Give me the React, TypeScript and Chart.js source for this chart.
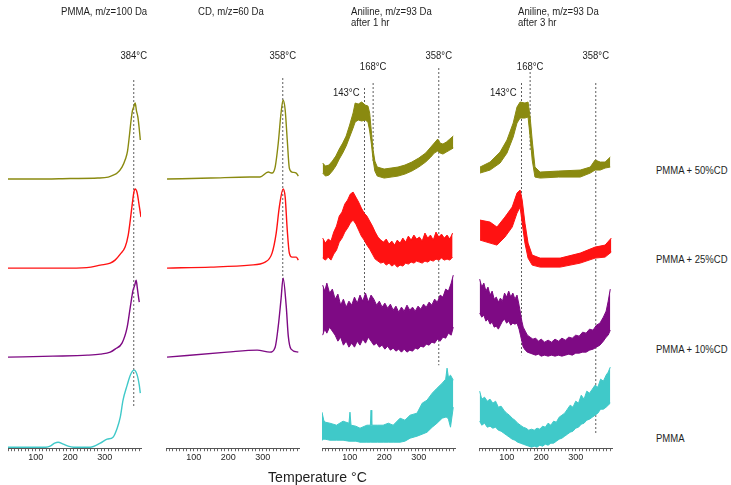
import React, { useEffect, useRef } from 'react';
import { Chart, registerables } from 'chart.js';

Chart.register(...registerables);

// ---------- colours ----------
const OLIVE = '#8a8a10';
const RED = '#ff1212';
const PURPLE = '#7e0a84';
const CYAN = '#40c9c9';
const MARKER = '#5c5c5c';
const TEXT = '#1e1e1e';
const FONT = '"Liberation Sans", Arial, Helvetica, sans-serif';

// ---------- temperature axis ----------
const T_MIN = 20;
const T_MAX = 405;
const TICK_STEP = 10;
const TICK_LABELS = [100, 200, 300];

// ---------- panel 1: PMMA, m/z=100 Da (smooth traces) ----------
const pmmaOliveT = [20, 100, 200, 280, 310, 325, 336, 350, 360, 366, 371, 376, 380, 384, 388, 392, 396, 400, 403];
const pmmaOliveV = [0, 0, 0.5, 1, 2, 4, 6, 12, 20, 28, 42, 58, 68, 72, 76, 68, 62, 50, 39];
const pmmaRedT = [20, 200, 260, 287, 316, 330, 345, 359, 368, 374, 380, 385, 388, 394, 400, 405];
const pmmaRedV = [0, 0, 1, 3, 5, 8, 14, 21, 33, 48, 65, 77, 79, 75, 62, 51];
const pmmaPurpleT = [20, 150, 250, 287, 316, 330, 350, 365, 374, 382, 387, 391, 394, 397, 400];
const pmmaPurpleV = [0, 1, 2, 3, 5, 8, 14, 30, 50, 67, 72, 77, 70, 62, 55];
const pmmaCyanT = [20, 130, 142, 155, 165, 180, 194, 210, 258, 287, 307, 324, 336, 345, 353, 365, 374, 385, 394, 400, 403];
const pmmaCyanV = [0, 0, 1, 4, 5, 3, 1, 0, 0, 4, 8, 10, 19, 30, 47, 62, 72, 77, 72, 62, 54];

// ---------- panel 2: CD, m/z=60 Da (smooth traces) ----------
const cdOliveT = [23, 150, 263, 292, 316, 327, 336, 345, 353, 359, 365, 371, 377, 385, 397, 403];
const cdOliveV = [0, 1, 2, 2, 7, 6, 12, 36, 66, 79, 69, 39, 11, 7, 6, 3];
const cdRedT = [23, 150, 263, 307, 327, 339, 348, 359, 365, 371, 377, 385, 397, 403];
const cdRedV = [0, 1, 3, 6, 15, 35, 61, 79, 71, 38, 15, 11, 11, 8];
const cdPurpleT = [23, 197, 284, 321, 336, 345, 353, 359, 368, 374, 382, 403];
const cdPurpleV = [0, 5, 7, 5, 10, 31, 58, 79, 51, 21, 8, 5];

// ---------- panel 3: Aniline, m/z=93 Da, after 1 hr (noisy: upper / lower envelope) ----------
const an1OliveT = [22, 30, 40, 50, 60, 70, 80, 90, 100, 110, 116, 125, 135, 145, 153, 158, 163, 168, 173, 180, 200, 220, 240, 260, 280, 300, 320, 335, 345, 355, 362, 370, 380, 390, 400];
const an1OliveHi = [16, 13, 14, 18, 23, 30, 36, 43, 54, 66, 76, 75, 77, 74, 73, 66, 47, 29, 18, 12, 10, 11, 12, 14, 17, 21, 26, 32, 36, 40, 36, 35, 37, 40, 43];
const an1OliveLo = [6, 3, 4, 8, 13, 20, 26, 33, 42, 51, 57, 59, 58, 59, 57, 48, 35, 19, 8, 3, 1, 2, 3, 5, 8, 12, 17, 22, 26, 28, 26, 25, 27, 29, 31];
const an1RedT = [22, 30, 38, 46, 54, 62, 70, 78, 86, 94, 102, 110, 118, 126, 134, 142, 150, 158, 166, 174, 182, 190, 198, 206, 214, 222, 230, 238, 246, 254, 262, 270, 278, 286, 294, 302, 310, 318, 326, 334, 342, 350, 358, 366, 374, 382, 390, 398];
const an1RedHi = [30, 25, 29, 27, 36, 42, 52, 56, 64, 68, 74, 76, 71, 66, 60, 55, 52, 47, 42, 36, 31, 28, 26, 29, 24, 27, 23, 28, 25, 30, 26, 32, 28, 33, 29, 31, 27, 35, 30, 33, 28, 36, 31, 34, 30, 33, 29, 35];
const an1RedLo = [10, 8, 11, 8, 14, 18, 26, 30, 36, 40, 45, 48, 44, 38, 32, 28, 23, 19, 14, 9, 7, 5, 6, 3, 5, 2, 4, 1, 3, 2, 5, 4, 6, 5, 7, 6, 5, 7, 6, 8, 7, 9, 8, 10, 8, 9, 8, 11];
const an1PurpleT = [22, 28, 34, 42, 50, 58, 66, 74, 82, 90, 98, 106, 114, 122, 130, 138, 146, 154, 162, 170, 178, 186, 194, 202, 210, 218, 226, 234, 242, 250, 258, 266, 274, 282, 290, 298, 306, 314, 322, 330, 338, 346, 354, 362, 370, 378, 386, 394, 400];
const an1PurpleHi = [72, 66, 74, 64, 68, 58, 63, 52, 58, 50, 56, 52, 60, 54, 62, 56, 64, 55, 62, 58, 52, 56, 50, 54, 49, 53, 47, 51, 45, 50, 46, 52, 47, 50, 46, 51, 48, 53, 50, 55, 52, 58, 55, 62, 60, 68, 66, 74, 82];
const an1PurpleLo = [22, 28, 24, 30, 26, 22, 16, 20, 12, 16, 10, 14, 10, 16, 12, 18, 14, 20, 16, 12, 14, 10, 12, 8, 11, 7, 9, 6, 8, 5, 8, 5, 7, 6, 9, 8, 11, 10, 13, 12, 15, 14, 18, 16, 20, 19, 24, 22, 30];
const an1CyanT = [20, 25, 29, 43, 62, 81, 98, 101, 104, 118, 130, 150, 160, 162, 164, 180, 197, 212, 226, 246, 260, 275, 295, 310, 324, 339, 353, 368, 378, 382, 386, 392, 400];
const an1CyanHi = [35, 27, 25, 24, 22, 26, 24, 35, 22, 21, 19, 22, 22, 37, 22, 22, 22, 24, 22, 29, 27, 32, 34, 44, 47, 54, 59, 64, 68, 79, 70, 72, 67];
const an1CyanLo = [7, 8, 8, 7, 7, 7, 6, 6, 6, 6, 5, 5, 5, 5, 5, 5, 5, 5, 5, 5, 6, 9, 11, 13, 15, 20, 24, 29, 30, 30, 28, 20, 40];

// ---------- panel 4: Aniline, m/z=93 Da, after 3 hr ----------
const an3OliveT = [23, 52, 81, 101, 119, 130, 139, 153, 162, 168, 174, 182, 197, 250, 313, 342, 356, 371, 385, 400];
const an3OliveHi = [12, 17, 27, 39, 56, 72, 77, 76, 77, 62, 39, 12, 7, 8, 9, 12, 19, 17, 17, 22];
const an3OliveLo = [6, 9, 16, 26, 42, 56, 61, 61, 62, 42, 19, 2, 1, 2, 2, 6, 9, 9, 11, 12];
const an3RedT = [23, 52, 72, 95, 116, 130, 139, 145, 153, 162, 174, 197, 255, 313, 356, 385, 403];
const an3RedHi = [48, 46, 41, 51, 61, 75, 78, 68, 45, 25, 13, 10, 10, 15, 21, 23, 30];
const an3RedLo = [28, 25, 23, 31, 41, 55, 61, 45, 25, 10, 3, 1, 1, 5, 10, 11, 16];
const an3PurpleT = [22, 28, 34, 40, 46, 52, 58, 64, 70, 76, 82, 88, 94, 100, 106, 112, 118, 124, 130, 136, 140, 144, 148, 154, 160, 168, 176, 184, 192, 200, 210, 220, 230, 240, 250, 260, 270, 280, 290, 300, 310, 320, 330, 340, 350, 360, 370, 380, 388, 394, 400];
const an3PurpleHi = [78, 70, 74, 66, 70, 62, 66, 58, 60, 55, 59, 56, 64, 60, 66, 60, 64, 58, 62, 52, 44, 36, 30, 26, 22, 20, 18, 19, 16, 18, 15, 17, 15, 18, 16, 19, 17, 20, 19, 22, 21, 25, 24, 28, 27, 32, 34, 40, 46, 56, 68];
const an3PurpleLo = [44, 40, 42, 36, 38, 33, 35, 30, 31, 28, 32, 36, 38, 34, 36, 32, 34, 33, 34, 28, 22, 16, 10, 7, 5, 4, 3, 2, 3, 1, 2, 1, 2, 1, 2, 1, 2, 3, 2, 4, 4, 5, 5, 7, 8, 10, 12, 16, 20, 22, 27];
const an3CyanT = [22, 28, 36, 44, 52, 60, 68, 76, 84, 92, 100, 108, 116, 124, 132, 140, 148, 156, 164, 172, 180, 188, 196, 204, 212, 220, 228, 236, 244, 252, 260, 268, 276, 284, 292, 300, 308, 316, 324, 332, 340, 348, 356, 364, 372, 380, 388, 394, 400];
const an3CyanHi = [56, 48, 50, 46, 48, 44, 46, 40, 41, 37, 34, 32, 29, 27, 24, 22, 20, 19, 17, 18, 17, 19, 18, 21, 20, 24, 22, 26, 25, 30, 32, 34, 38, 42, 40, 46, 44, 52, 48, 56, 54, 58, 62, 60, 68, 66, 72, 75, 80];
const an3CyanLo = [26, 22, 24, 20, 21, 19, 20, 17, 16, 14, 12, 10, 8, 7, 5, 4, 3, 2, 1, 0, 1, 0, 2, 1, 3, 2, 4, 4, 6, 8, 9, 11, 13, 15, 16, 19, 20, 23, 24, 27, 28, 30, 32, 34, 38, 38, 40, 42, 44];

// ---------- reference temperatures (dashed markers) ----------
const pmmaMarkT = [384];
const pmmaMarkTop = [368];
const pmmaMarkBottom = [41];
const cdMarkT = [358];
const cdMarkTop = [370];
const cdMarkBottom = [168];
const an1MarkT = [143, 168, 358];
const an1MarkTop = [360, 365, 380];
const an1MarkBottom = [138, 285, 83];
const an3MarkT = [143, 168, 358];
const an3MarkTop = [365, 376, 365];
const an3MarkBottom = [93, 298, 15];

// ---------- text ----------
const rowLabels = ['PMMA + 50%CD', 'PMMA + 25%CD', 'PMMA + 10%CD', 'PMMA'];
const axisTitle = 'Temperature °C';

// vertical stacking of the four samples (baseline height in the plot's y units)
const ROW_BASE = { olive: 269, red: 180, purple: 91, cyan: 1 };

type Smooth = { kind: 'line'; color: string; base: number; t: number[]; v: number[] };
type Band = { kind: 'band'; color: string; base: number; t: number[]; hi: number[]; lo: number[] };
type Marker = { t: number; top: number; bottom: number; labelY: number; align: 'center' | 'left' };

const markerList = (t: number[], top: number[], bottom: number[], labelY: number[], align: ('center' | 'left')[]): Marker[] =>
  t.map((v, i) => ({ t: v, top: top[i], bottom: bottom[i], labelY: labelY[i], align: align[i] }));

const PLOT_W = 133;
const PAD_L = 34;
const PAD_R = 24;
const CANVAS_H = 485;

const markerLabelPlugin = {
  id: 'markerLabels',
  afterDatasetsDraw(chart: any) {
    const markers: Marker[] = chart.options.plugins.markerLabels.items;
    const { ctx } = chart;
    const xs = chart.scales.x;
    const ys = chart.scales.y;
    ctx.save();
    ctx.fillStyle = TEXT;
    ctx.font = `10px ${FONT}`;
    ctx.textBaseline = 'middle';
    markers.forEach((m) => {
      const x = xs.getPixelForValue(m.t);
      const y = ys.getPixelForValue(m.labelY);
      const label = `${m.t}°C`;
      ctx.save();
      if (m.align === 'center') {
        ctx.translate(x, y);
        ctx.scale(0.95, 1);
        ctx.textAlign = 'center';
      } else {
        ctx.translate(x - 5, y);
        ctx.scale(0.95, 1);
        ctx.textAlign = 'right';
      }
      ctx.fillText(label, 0, 0);
      ctx.restore();
    });
    ctx.restore();
  },
};

function Panel({ left, series, markers }: { left: number; series: (Smooth | Band)[]; markers: Marker[] }) {
  const ref = useRef<HTMLCanvasElement>(null);

  useEffect(() => {
    if (!ref.current) return;
    const datasets: any[] = [];
    series.forEach((s) => {
      if (s.kind === 'line') {
        datasets.push({
          data: s.t.map((t, i) => ({ x: t, y: s.base + s.v[i] })),
          borderColor: s.color,
          borderWidth: 1.4,
          pointRadius: 0,
          cubicInterpolationMode: 'monotone',
          fill: false,
        });
      } else {
        datasets.push({
          data: s.t.map((t, i) => ({ x: t, y: s.base + s.hi[i] })),
          borderColor: s.color,
          borderWidth: 1,
          pointRadius: 0,
          tension: 0,
          fill: false,
        });
        datasets.push({
          data: s.t.map((t, i) => ({ x: t, y: s.base + s.lo[i] })),
          borderColor: s.color,
          backgroundColor: s.color,
          borderWidth: 1,
          pointRadius: 0,
          tension: 0,
          fill: '-1',
        });
      }
    });
    markers.forEach((m) => {
      datasets.push({
        data: [
          { x: m.t, y: m.top },
          { x: m.t, y: m.bottom },
        ],
        borderColor: MARKER,
        borderWidth: 1,
        borderDash: [2, 2],
        pointRadius: 0,
        fill: false,
      });
    });

    const chart = new Chart(ref.current, {
      type: 'line',
      data: { datasets },
      plugins: [markerLabelPlugin],
      options: {
        responsive: false,
        animation: false,
        events: [],
        layout: { padding: { left: PAD_L, right: PAD_R, top: 48, bottom: 21 } },
        plugins: {
          legend: { display: false },
          tooltip: { enabled: false },
          // @ts-ignore
          markerLabels: { items: markers },
        },
        scales: {
          x: {
            type: 'linear',
            min: T_MIN,
            max: T_MAX,
            afterBuildTicks: (scale: any) => {
              const ticks = [];
              for (let v = T_MIN; v <= T_MAX; v += TICK_STEP) ticks.push({ value: v });
              scale.ticks = ticks;
            },
            ticks: {
              autoSkip: false,
              maxRotation: 0,
              padding: 1,
              color: TEXT,
              font: { size: 9, family: FONT },
              callback: (v: any) => (TICK_LABELS.includes(Number(v)) ? String(v) : ''),
            },
            grid: { drawOnChartArea: false, drawTicks: true, tickLength: 3, color: '#666' },
            border: { display: true, color: '#555', width: 1 },
          },
          y: { display: false, min: 0, max: 400 },
        },
      },
    } as any);
    return () => chart.destroy();
  }, []);

  return (
    <canvas
      ref={ref}
      width={PAD_L + PLOT_W + PAD_R}
      height={CANVAS_H}
      style={{ position: 'absolute', left: left - PAD_L, top: 0, width: PAD_L + PLOT_W + PAD_R, height: CANVAS_H }}
    />
  );
}

function Label({ x, y, text, size = 10, sx = 0.96 }: { x: number; y: number; text: string; size?: number; sx?: number }) {
  return (
    <div
      style={{
        position: 'absolute',
        left: x,
        top: y - 7,
        height: 14,
        lineHeight: '14px',
        fontSize: size,
        fontFamily: FONT,
        color: TEXT,
        whiteSpace: 'nowrap',
        transform: `scaleX(${sx})`,
        transformOrigin: 'left center',
      }}
    >
      {text}
    </div>
  );
}

export default function App() {
  const panel1: (Smooth | Band)[] = [
    { kind: 'line', color: OLIVE, base: ROW_BASE.olive, t: pmmaOliveT, v: pmmaOliveV },
    { kind: 'line', color: RED, base: ROW_BASE.red, t: pmmaRedT, v: pmmaRedV },
    { kind: 'line', color: PURPLE, base: ROW_BASE.purple, t: pmmaPurpleT, v: pmmaPurpleV },
    { kind: 'line', color: CYAN, base: ROW_BASE.cyan, t: pmmaCyanT, v: pmmaCyanV },
  ];
  const panel2: (Smooth | Band)[] = [
    { kind: 'line', color: OLIVE, base: ROW_BASE.olive, t: cdOliveT, v: cdOliveV },
    { kind: 'line', color: RED, base: ROW_BASE.red, t: cdRedT, v: cdRedV },
    { kind: 'line', color: PURPLE, base: ROW_BASE.purple, t: cdPurpleT, v: cdPurpleV },
  ];
  const panel3: (Smooth | Band)[] = [
    { kind: 'band', color: OLIVE, base: ROW_BASE.olive, t: an1OliveT, hi: an1OliveHi, lo: an1OliveLo },
    { kind: 'band', color: RED, base: ROW_BASE.red, t: an1RedT, hi: an1RedHi, lo: an1RedLo },
    { kind: 'band', color: PURPLE, base: ROW_BASE.purple, t: an1PurpleT, hi: an1PurpleHi, lo: an1PurpleLo },
    { kind: 'band', color: CYAN, base: ROW_BASE.cyan, t: an1CyanT, hi: an1CyanHi, lo: an1CyanLo },
  ];
  const panel4: (Smooth | Band)[] = [
    { kind: 'band', color: OLIVE, base: ROW_BASE.olive, t: an3OliveT, hi: an3OliveHi, lo: an3OliveLo },
    { kind: 'band', color: RED, base: ROW_BASE.red, t: an3RedT, hi: an3RedHi, lo: an3RedLo },
    { kind: 'band', color: PURPLE, base: ROW_BASE.purple, t: an3PurpleT, hi: an3PurpleHi, lo: an3PurpleLo },
    { kind: 'band', color: CYAN, base: ROW_BASE.cyan, t: an3CyanT, hi: an3CyanHi, lo: an3CyanLo },
  ];

  return (
    <div style={{ position: 'absolute', left: 0, top: 0, width: 731, height: 485, background: '#fff', overflow: 'hidden' }}>
      <Panel left={8} series={panel1} markers={markerList(pmmaMarkT, pmmaMarkTop, pmmaMarkBottom, [392], ['center'])} />
      <Panel left={166} series={panel2} markers={markerList(cdMarkT, cdMarkTop, cdMarkBottom, [392], ['center'])} />
      <Panel
        left={322}
        series={panel3}
        markers={markerList(an1MarkT, an1MarkTop, an1MarkBottom, [355, 381, 392], ['left', 'center', 'center'])}
      />
      <Panel
        left={479}
        series={panel4}
        markers={markerList(an3MarkT, an3MarkTop, an3MarkBottom, [355, 381, 392], ['left', 'center', 'center'])}
      />

      <Label x={61} y={12} text="PMMA, m/z=100 Da" />
      <Label x={198} y={12} text="CD, m/z=60 Da" />
      <Label x={351} y={12} text="Aniline, m/z=93 Da" />
      <Label x={351} y={23} text="after 1 hr" />
      <Label x={518} y={12} text="Aniline, m/z=93 Da" />
      <Label x={518} y={23} text="after 3 hr" />

      <Label x={656} y={171} text={rowLabels[0]} sx={0.95} />
      <Label x={656} y={260} text={rowLabels[1]} sx={0.95} />
      <Label x={656} y={350} text={rowLabels[2]} sx={0.95} />
      <Label x={656} y={439} text={rowLabels[3]} sx={0.95} />

      <Label x={268} y={477} text={axisTitle} size={15} sx={0.94} />
    </div>
  );
}
